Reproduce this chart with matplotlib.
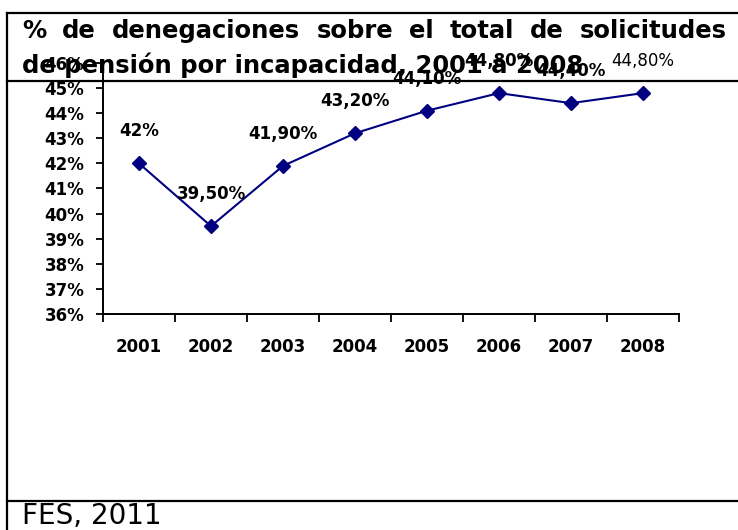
import matplotlib
matplotlib.use('Agg')
import matplotlib.pyplot as plt
from matplotlib.lines import Line2D

# Datos del grafico
anios = ['2001', '2002', '2003', '2004', '2005', '2006', '2007', '2008']
porcentajes = [42.0, 39.5, 41.9, 43.2, 44.1, 44.8, 44.4, 44.8]
etiquetas = ['42%', '39,50%', '41,90%', '43,20%', '44,10%', '44,80%', '44,40%', '44,80%']
yticks = [36, 37, 38, 39, 40, 41, 42, 43, 44, 45, 46]

titulo1 = "% de denegaciones sobre el total de solicitudes"
titulo2 = "de pensión por incapacidad, 2001 a 2008"
fuente = "FES, 2011"

W, H = 738, 530
fig = plt.figure(figsize=(W / 100, H / 100), dpi=100)
fig.patch.set_facecolor('white')

def fx(px):
    return px / W

def fy(py):
    return 1 - py / H

# Ejes
ax = fig.add_axes([fx(103), fy(314), fx(679) - fx(103), fy(63) - fy(314)])
ax.patch.set_alpha(0)
x = list(range(1, len(anios) + 1))
ax.plot(x, porcentajes, color='#000080', lw=1.5, marker='D', ms=7.5,
        mfc='#000080', mec='#000080', clip_on=False)

for i, (xi, yi) in enumerate(zip(x, porcentajes)):
    peso = 'normal' if i == len(x) - 1 else 'bold'
    ax.annotate(etiquetas[i], (xi, yi), xytext=(0, 32), textcoords='offset pixels',
                ha='center', va='center', fontsize=12, fontweight=peso)

ax.set_xlim(0.5, len(anios) + 0.5)
ax.set_ylim(36, 46)
ax.set_yticks(yticks)
ax.set_yticklabels([str(v) + '%' for v in yticks], fontsize=12, fontweight='bold')
ax.set_xticks([i + 0.5 for i in range(0, len(anios) + 1)])
ax.set_xticklabels([])
ax.set_xticks(x, minor=True)
ax.set_xticklabels(anios, minor=True, fontsize=12, fontweight='bold')
ax.tick_params(axis='x', which='major', direction='out', length=6, width=1.3)
ax.tick_params(axis='x', which='minor', length=0, pad=17)
ax.tick_params(axis='y', direction='out', length=5, width=1.3, pad=8.5)
ax.spines['top'].set_visible(False)
ax.spines['right'].set_visible(False)
ax.spines['left'].set_linewidth(1.4)
ax.spines['bottom'].set_linewidth(1.4)

# Marco de la figura
lw = 1.6
fig.add_artist(Line2D([fx(7), 1], [fy(13), fy(13)], color='black', lw=lw))
fig.add_artist(Line2D([fx(7), 1], [fy(81), fy(81)], color='black', lw=lw))
fig.add_artist(Line2D([fx(7), 1], [fy(501), fy(501)], color='black', lw=lw))
fig.add_artist(Line2D([fx(7), fx(7)], [0, fy(13)], color='black', lw=lw))

# Titulo, primera linea justificada
renderer = fig.canvas.get_renderer()
palabras = titulo1.split()
textos = []
anchos = []
for p in palabras:
    t = fig.text(0, fy(38), p, fontsize=17.5, fontweight='bold', va='baseline')
    textos.append(t)
    anchos.append(t.get_window_extent(renderer).width)
izq, der = 22, 727
hueco = (der - izq - sum(anchos)) / (len(palabras) - 1)
pos = izq
for t, a in zip(textos, anchos):
    t.set_x(fx(pos))
    pos += a + hueco

fig.text(fx(22), fy(73), titulo2, fontsize=17.5, fontweight='bold', va='baseline')
fig.text(fx(22), fy(524), fuente, fontsize=20, va='baseline')

fig.savefig('out.png', dpi=100)
